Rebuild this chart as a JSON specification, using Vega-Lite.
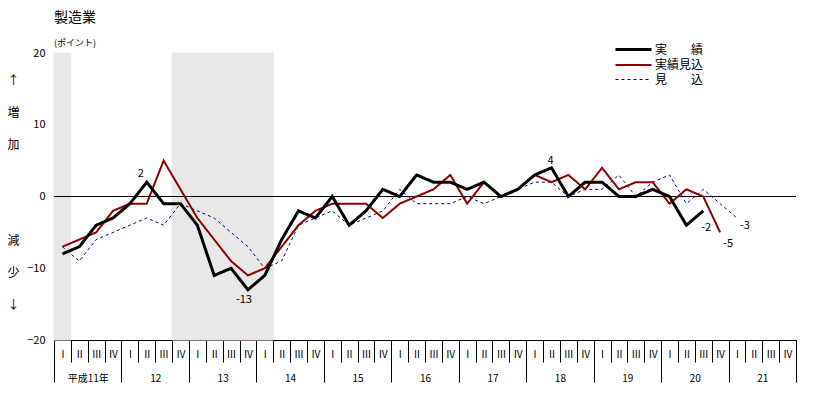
{
"$schema":"https://vega.github.io/schema/vega-lite/v6.json",
"width":742,"height":287,
"autosize":{"type":"none"},
"padding":{"left":54,"top":53,"right":17,"bottom":54},
"background":"white",
"title":{"text":"製造業","subtitle":"(ポイント)","anchor":"start","frame":"group","font":"Noto Sans CJK JP","fontSize":14,"fontWeight":"normal","color":"black","subtitleFont":"Noto Sans CJK JP","subtitleFontSize":9,"subtitleColor":"black","subtitlePadding":14,"offset":-6},
"config":{"view":{"stroke":null},"font":"Noto Sans CJK JP","axis":{"domainColor":"black","tickColor":"black","labelColor":"black","titleColor":"black","labelFont":"Noto Sans CJK JP","titleFont":"Noto Sans CJK JP","grid":false,"zindex":1}},
"datasets":{"series":[
{"q":"11-Ⅰ","s":"見　　込","v":-7},{"q":"11-Ⅱ","s":"見　　込","v":-9},{"q":"11-Ⅲ","s":"見　　込","v":-6},{"q":"11-Ⅳ","s":"見　　込","v":-5},
{"q":"12-Ⅰ","s":"見　　込","v":-4},{"q":"12-Ⅱ","s":"見　　込","v":-3},{"q":"12-Ⅲ","s":"見　　込","v":-4},{"q":"12-Ⅳ","s":"見　　込","v":-1},
{"q":"13-Ⅰ","s":"見　　込","v":-2},{"q":"13-Ⅱ","s":"見　　込","v":-3},{"q":"13-Ⅲ","s":"見　　込","v":-5},{"q":"13-Ⅳ","s":"見　　込","v":-7},
{"q":"14-Ⅰ","s":"見　　込","v":-10},{"q":"14-Ⅱ","s":"見　　込","v":-9},{"q":"14-Ⅲ","s":"見　　込","v":-4},{"q":"14-Ⅳ","s":"見　　込","v":-3},
{"q":"15-Ⅰ","s":"見　　込","v":-2},{"q":"15-Ⅱ","s":"見　　込","v":-4},{"q":"15-Ⅲ","s":"見　　込","v":-3},{"q":"15-Ⅳ","s":"見　　込","v":-2},
{"q":"16-Ⅰ","s":"見　　込","v":1},{"q":"16-Ⅱ","s":"見　　込","v":-1},{"q":"16-Ⅲ","s":"見　　込","v":-1},{"q":"16-Ⅳ","s":"見　　込","v":-1},
{"q":"17-Ⅰ","s":"見　　込","v":0},{"q":"17-Ⅱ","s":"見　　込","v":-1},{"q":"17-Ⅲ","s":"見　　込","v":0},{"q":"17-Ⅳ","s":"見　　込","v":1},
{"q":"18-Ⅰ","s":"見　　込","v":2},{"q":"18-Ⅱ","s":"見　　込","v":2},{"q":"18-Ⅲ","s":"見　　込","v":0},{"q":"18-Ⅳ","s":"見　　込","v":1},
{"q":"19-Ⅰ","s":"見　　込","v":1},{"q":"19-Ⅱ","s":"見　　込","v":3},{"q":"19-Ⅲ","s":"見　　込","v":0},{"q":"19-Ⅳ","s":"見　　込","v":2},
{"q":"20-Ⅰ","s":"見　　込","v":3},{"q":"20-Ⅱ","s":"見　　込","v":-1},{"q":"20-Ⅲ","s":"見　　込","v":1},{"q":"20-Ⅳ","s":"見　　込","v":-1},
{"q":"21-Ⅰ","s":"見　　込","v":-3},
{"q":"11-Ⅰ","s":"実績見込","v":-7},{"q":"11-Ⅱ","s":"実績見込","v":-6},{"q":"11-Ⅲ","s":"実績見込","v":-5},{"q":"11-Ⅳ","s":"実績見込","v":-2},
{"q":"12-Ⅰ","s":"実績見込","v":-1},{"q":"12-Ⅱ","s":"実績見込","v":-1},{"q":"12-Ⅲ","s":"実績見込","v":5},{"q":"12-Ⅳ","s":"実績見込","v":1},
{"q":"13-Ⅰ","s":"実績見込","v":-3},{"q":"13-Ⅱ","s":"実績見込","v":-6},{"q":"13-Ⅲ","s":"実績見込","v":-9},{"q":"13-Ⅳ","s":"実績見込","v":-11},
{"q":"14-Ⅰ","s":"実績見込","v":-10},{"q":"14-Ⅱ","s":"実績見込","v":-7},{"q":"14-Ⅲ","s":"実績見込","v":-4},{"q":"14-Ⅳ","s":"実績見込","v":-2},
{"q":"15-Ⅰ","s":"実績見込","v":-1},{"q":"15-Ⅱ","s":"実績見込","v":-1},{"q":"15-Ⅲ","s":"実績見込","v":-1},{"q":"15-Ⅳ","s":"実績見込","v":-3},
{"q":"16-Ⅰ","s":"実績見込","v":-1},{"q":"16-Ⅱ","s":"実績見込","v":0},{"q":"16-Ⅲ","s":"実績見込","v":1},{"q":"16-Ⅳ","s":"実績見込","v":3},
{"q":"17-Ⅰ","s":"実績見込","v":-1},{"q":"17-Ⅱ","s":"実績見込","v":2},{"q":"17-Ⅲ","s":"実績見込","v":0},{"q":"17-Ⅳ","s":"実績見込","v":1},
{"q":"18-Ⅰ","s":"実績見込","v":3},{"q":"18-Ⅱ","s":"実績見込","v":2},{"q":"18-Ⅲ","s":"実績見込","v":3},{"q":"18-Ⅳ","s":"実績見込","v":1},
{"q":"19-Ⅰ","s":"実績見込","v":4},{"q":"19-Ⅱ","s":"実績見込","v":1},{"q":"19-Ⅲ","s":"実績見込","v":2},{"q":"19-Ⅳ","s":"実績見込","v":2},
{"q":"20-Ⅰ","s":"実績見込","v":-1},{"q":"20-Ⅱ","s":"実績見込","v":1},{"q":"20-Ⅲ","s":"実績見込","v":0},{"q":"20-Ⅳ","s":"実績見込","v":-5},
{"q":"11-Ⅰ","s":"実　　績","v":-8},{"q":"11-Ⅱ","s":"実　　績","v":-7},{"q":"11-Ⅲ","s":"実　　績","v":-4},{"q":"11-Ⅳ","s":"実　　績","v":-3},
{"q":"12-Ⅰ","s":"実　　績","v":-1},{"q":"12-Ⅱ","s":"実　　績","v":2},{"q":"12-Ⅲ","s":"実　　績","v":-1},{"q":"12-Ⅳ","s":"実　　績","v":-1},
{"q":"13-Ⅰ","s":"実　　績","v":-4},{"q":"13-Ⅱ","s":"実　　績","v":-11},{"q":"13-Ⅲ","s":"実　　績","v":-10},{"q":"13-Ⅳ","s":"実　　績","v":-13},
{"q":"14-Ⅰ","s":"実　　績","v":-11},{"q":"14-Ⅱ","s":"実　　績","v":-6},{"q":"14-Ⅲ","s":"実　　績","v":-2},{"q":"14-Ⅳ","s":"実　　績","v":-3},
{"q":"15-Ⅰ","s":"実　　績","v":0},{"q":"15-Ⅱ","s":"実　　績","v":-4},{"q":"15-Ⅲ","s":"実　　績","v":-2},{"q":"15-Ⅳ","s":"実　　績","v":1},
{"q":"16-Ⅰ","s":"実　　績","v":0},{"q":"16-Ⅱ","s":"実　　績","v":3},{"q":"16-Ⅲ","s":"実　　績","v":2},{"q":"16-Ⅳ","s":"実　　績","v":2},
{"q":"17-Ⅰ","s":"実　　績","v":1},{"q":"17-Ⅱ","s":"実　　績","v":2},{"q":"17-Ⅲ","s":"実　　績","v":0},{"q":"17-Ⅳ","s":"実　　績","v":1},
{"q":"18-Ⅰ","s":"実　　績","v":3},{"q":"18-Ⅱ","s":"実　　績","v":4},{"q":"18-Ⅲ","s":"実　　績","v":0},{"q":"18-Ⅳ","s":"実　　績","v":2},
{"q":"19-Ⅰ","s":"実　　績","v":2},{"q":"19-Ⅱ","s":"実　　績","v":0},{"q":"19-Ⅲ","s":"実　　績","v":0},{"q":"19-Ⅳ","s":"実　　績","v":1},
{"q":"20-Ⅰ","s":"実　　績","v":0},{"q":"20-Ⅱ","s":"実　　績","v":-4},{"q":"20-Ⅲ","s":"実　　績","v":-2}
]},
"layer":[
{"layer":[
{"data":{"values":[{"q":"11-Ⅰ"},{"q":"12-Ⅳ"},{"q":"13-Ⅰ"},{"q":"13-Ⅱ"},{"q":"13-Ⅲ"},{"q":"13-Ⅳ"},{"q":"14-Ⅰ"}]},
 "mark":{"type":"rect","fill":"#e8e8e8","stroke":"#e8e8e8","strokeWidth":1},
 "encoding":{"x":{"field":"q","type":"nominal","scale":{"type":"band","paddingInner":0,"paddingOuter":0,"domain":["11-Ⅰ","11-Ⅱ","11-Ⅲ","11-Ⅳ","12-Ⅰ","12-Ⅱ","12-Ⅲ","12-Ⅳ","13-Ⅰ","13-Ⅱ","13-Ⅲ","13-Ⅳ","14-Ⅰ","14-Ⅱ","14-Ⅲ","14-Ⅳ","15-Ⅰ","15-Ⅱ","15-Ⅲ","15-Ⅳ","16-Ⅰ","16-Ⅱ","16-Ⅲ","16-Ⅳ","17-Ⅰ","17-Ⅱ","17-Ⅲ","17-Ⅳ","18-Ⅰ","18-Ⅱ","18-Ⅲ","18-Ⅳ","19-Ⅰ","19-Ⅱ","19-Ⅲ","19-Ⅳ","20-Ⅰ","20-Ⅱ","20-Ⅲ","20-Ⅳ","21-Ⅰ","21-Ⅱ","21-Ⅲ","21-Ⅳ"]},
   "axis":{"orient":"bottom","title":null,"tickBand":"extent","tickSize":22,"labelExpr":"split(datum.value,'-')[1]","labelPadding":-8,"labelBaseline":"middle","labelAngle":0,"labelFontSize":10,"labelFont":"Noto Sans CJK JP"}}}},
{"data":{"values":[{"v":0}]},
 "mark":{"type":"rule","color":"black","strokeWidth":1},
 "encoding":{"y":{"field":"v","type":"quantitative","scale":{"domain":[-20,20],"nice":false,"zero":false},
   "axis":{"orient":"left","values":[-20,-10,0,10,20],"labelOverlap":false,"tickSize":-3,"labelPadding":12,"labelFontSize":11,
     "title":["↑","増","加","\u200b","\u200b","減","少","↓"],"titleAngle":0,"titleX":-41,"titleY":22,"titleAlign":"center","titleBaseline":"top","titleLineHeight":32,"titleFontSize":12,"titleFontWeight":"normal"}}}},
{"data":{"name":"series"},
 "mark":{"type":"line","interpolate":"linear"},
 "encoding":{
   "x":{"field":"q","type":"nominal","bandPosition":0.5,"scale":{"type":"band"}},
   "y":{"field":"v","type":"quantitative","axis":{"orient":"left","values":[-18,-16,-14,-12,-8,-6,-4,-2,2,4,6,8,12,14,16,18],"labels":false,"domain":false,"tickSize":-3,"title":null}},
   "color":{"field":"s","type":"nominal","sort":null,"scale":{"domain":["実　　績","実績見込","見　　込"],"range":["#000000","#8b0000","#00008b"]},
     "legend":{"orient":"none","legendX":572,"legendY":-11,"title":null,"symbolType":"M-3,0H3","symbolSize":144,"labelOffset":14,"labelFont":"Noto Sans CJK JP","labelFontSize":12,"labelColor":"black","rowPadding":2,"padding":0}},
   "strokeDash":{"field":"s","type":"nominal","sort":null,"scale":{"domain":["実　　績","実績見込","見　　込"],"range":[[1,0],[1,0],[3,3]]}},
   "strokeWidth":{"field":"s","type":"nominal","sort":null,"scale":{"domain":["実　　績","実績見込","見　　込"],"range":[3,1,1]}}
 }},
{"data":{"values":[{"q":"12-Ⅱ","v":2,"t":"2"}]},"mark":{"type":"text","dx":-6,"dy":-8,"fontSize":11,"font":"Noto Sans CJK JP","color":"black"},
 "encoding":{"x":{"field":"q","type":"nominal","bandPosition":0.5,"scale":{"type":"band"}},"y":{"field":"v","type":"quantitative","axis":null},"text":{"field":"t"}}},
{"data":{"values":[{"q":"18-Ⅱ","v":4,"t":"4"}]},"mark":{"type":"text","dx":-1,"dy":-7,"fontSize":11,"font":"Noto Sans CJK JP","color":"black"},
 "encoding":{"x":{"field":"q","type":"nominal","bandPosition":0.5,"scale":{"type":"band"}},"y":{"field":"v","type":"quantitative","axis":null},"text":{"field":"t"}}},
{"data":{"values":[{"q":"13-Ⅳ","v":-13,"t":"-13"}]},"mark":{"type":"text","dx":-4,"dy":10,"fontSize":11,"font":"Noto Sans CJK JP","color":"black"},
 "encoding":{"x":{"field":"q","type":"nominal","bandPosition":0.5,"scale":{"type":"band"}},"y":{"field":"v","type":"quantitative","axis":null},"text":{"field":"t"}}},
{"data":{"values":[{"q":"20-Ⅲ","v":-2,"t":"-2"}]},"mark":{"type":"text","dx":3,"dy":17,"fontSize":11,"font":"Noto Sans CJK JP","color":"black"},
 "encoding":{"x":{"field":"q","type":"nominal","bandPosition":0.5,"scale":{"type":"band"}},"y":{"field":"v","type":"quantitative","axis":null},"text":{"field":"t"}}},
{"data":{"values":[{"q":"20-Ⅳ","v":-5,"t":"-5"}]},"mark":{"type":"text","dx":8,"dy":12,"fontSize":11,"font":"Noto Sans CJK JP","color":"black"},
 "encoding":{"x":{"field":"q","type":"nominal","bandPosition":0.5,"scale":{"type":"band"}},"y":{"field":"v","type":"quantitative","axis":null},"text":{"field":"t"}}},
{"data":{"values":[{"q":"21-Ⅰ","v":-3,"t":"-3"}]},"mark":{"type":"text","dx":8,"dy":8,"fontSize":11,"font":"Noto Sans CJK JP","color":"black"},
 "encoding":{"x":{"field":"q","type":"nominal","bandPosition":0.5,"scale":{"type":"band"}},"y":{"field":"v","type":"quantitative","axis":null},"text":{"field":"t"}}}
],
"resolve":{"axis":{"y":"independent"}}},
{"data":{"values":[{"yr":"平成11年"},{"yr":"12"},{"yr":"13"},{"yr":"14"},{"yr":"15"},{"yr":"16"},{"yr":"17"},{"yr":"18"},{"yr":"19"},{"yr":"20"},{"yr":"21"}]},
 "mark":{"type":"rect","opacity":0},
 "encoding":{"x":{"field":"yr","type":"nominal","sort":null,"scale":{"type":"band","paddingInner":0,"paddingOuter":0},
   "axis":{"orient":"bottom","title":null,"tickBand":"extent","tickSize":42,"labelPadding":-4,"labelBaseline":"middle","labelAngle":0,"labelFontSize":10,"domain":false,"labelFont":"Noto Sans CJK JP"}}}}
],
"resolve":{"scale":{"x":"independent"}}
}
